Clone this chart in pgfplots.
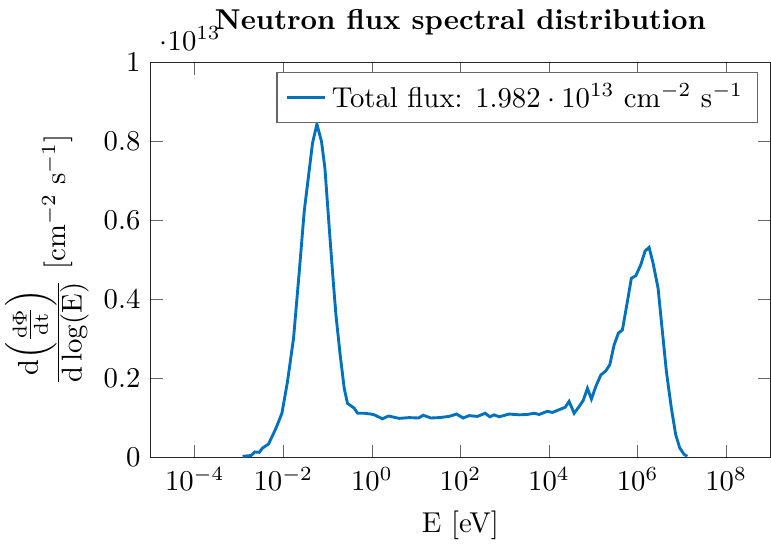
\documentclass[border=0pt]{standalone}
\usepackage{pgfplots}
\pgfplotsset{compat=1.18}
\definecolor{mycolor1}{rgb}{0.00000,0.44700,0.74100}
\begin{document}
\begin{tikzpicture}
\begin{axis}[%
width=216pt,
height=137.6pt,
scale only axis,
xmode=log,
xmin=1e-5,
xmax=1e9,
xtick={1e-4,1e-2,1,1e2,1e4,1e6,1e8},
xminorticks=false,
ymin=0,
ymax=1e13,
ytick={0,0.2e13,0.4e13,0.6e13,0.8e13,1e13},
axis line style={black!85},
tick style={black!60},
xlabel={E [eV]\rule[-3pt]{0pt}{0pt}},
ylabel={$\frac{\textstyle\mathrm{d}\Bigl(\frac{\mathrm{d}\Phi}{\mathrm{dt}}\Bigr)}{\textstyle\mathrm{d}\log(\mathrm{E})}$ [cm$^{-2}$ s$^{-1}$]},
ylabel style={inner sep=1.7pt},
title style={font=\bfseries},
title={Neutron flux spectral distribution},
legend style={at={(0.98,0.977)}, anchor=north east, legend cell align=left, align=left, draw=black!60},
legend image code/.code={\draw[#1] (0cm,0cm) -- (0.46cm,0cm);}
]
\addplot [color=mycolor1, line width=1.0pt]
coordinates {
(1.20e-3, 0.003e13)
(1.86e-3, 0.005e13)
(2.29e-3, 0.014e13)
(2.86e-3, 0.013e13)
(3.39e-3, 0.024e13)
(4.63e-3, 0.034e13)
(6.81e-3, 0.074e13)
(9.29e-3, 0.112e13)
(1.24e-2, 0.192e13)
(1.70e-2, 0.302e13)
(2.29e-2, 0.471e13)
(2.96e-2, 0.623e13)
(3.65e-2, 0.707e13)
(4.56e-2, 0.796e13)
(5.73e-2, 0.844e13)
(7.28e-2, 0.800e13)
(8.69e-2, 0.732e13)
(0.109, 0.580e13)
(0.134, 0.446e13)
(0.154, 0.361e13)
(0.192, 0.260e13)
(0.237, 0.175e13)
(0.281, 0.137e13)
(0.398, 0.125e13)
(0.473, 0.112e13)
(0.670, 0.112e13)
(0.948, 0.110e13)
(1.13, 0.108e13)
(1.73, 0.098e13)
(2.37, 0.105e13)
(4.13, 0.099e13)
(6.95, 0.101e13)
(11.3, 0.100e13)
(14.4, 0.107e13)
(21.5, 0.100e13)
(33.0, 0.101e13)
(55.6, 0.104e13)
(81.3, 0.110e13)
(115, 0.100e13)
(157, 0.106e13)
(242, 0.104e13)
(361, 0.112e13)
(461, 0.103e13)
(577, 0.108e13)
(748, 0.103e13)
(1257, 0.110e13)
(2113, 0.108e13)
(3252, 0.109e13)
(4613, 0.112e13)
(5984, 0.109e13)
(9205, 0.117e13)
(1.19e4, 0.114e13)
(1.69e4, 0.121e13)
(2.31e4, 0.127e13)
(2.84e4, 0.142e13)
(3.69e4, 0.112e13)
(4.78e4, 0.129e13)
(5.89e4, 0.144e13)
(7.36e4, 0.175e13)
(9.06e4, 0.148e13)
(1.14e5, 0.180e13)
(1.48e5, 0.209e13)
(1.91e5, 0.219e13)
(2.36e5, 0.235e13)
(2.95e5, 0.285e13)
(3.69e5, 0.315e13)
(4.54e5, 0.323e13)
(5.89e5, 0.395e13)
(7.24e5, 0.454e13)
(9.10e5, 0.460e13)
(1.18e6, 0.488e13)
(1.48e6, 0.523e13)
(1.82e6, 0.532e13)
(2.24e6, 0.492e13)
(2.90e6, 0.429e13)
(3.63e6, 0.319e13)
(4.47e6, 0.218e13)
(5.79e6, 0.125e13)
(7.28e6, 0.057e13)
(8.97e6, 0.024e13)
(1.12e7, 0.008e13)
(1.33e7, 0.003e13)
};
\addlegendentry{Total flux: $1.982\cdot10^{13}$ cm$^{-2}$ s$^{-1}$}
\end{axis}
\end{tikzpicture}
\end{document}
